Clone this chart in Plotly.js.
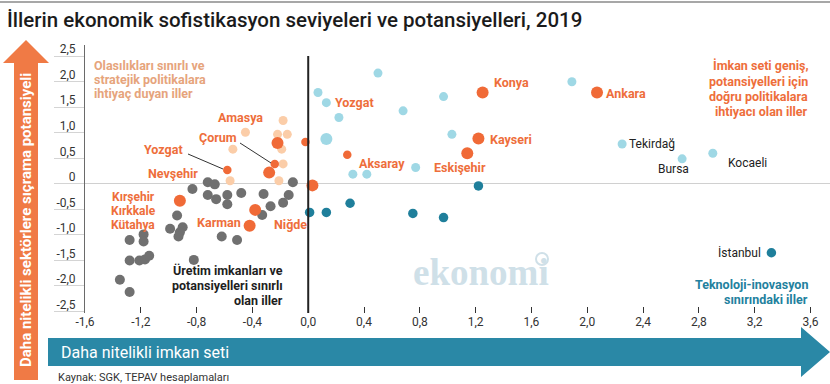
<!DOCTYPE html>
<html><head><meta charset="utf-8">
<script src="https://cdn.plot.ly/plotly-3.0.1.min.js"></script>
<style>html,body{margin:0;padding:0;background:#fff;}#chart{width:830px;height:384px;}</style>
</head><body><div id="chart"></div>
<script>
// ---- data ----
const xTickVals = [-1.6,-1.2,-0.8,-0.4,0,0.4,0.8,1.2,1.6,2.0,2.4,2.8,3.2,3.6];
const xTickText = ['-1,6','-1,2','-0,8','-0,4','0,0','0,4','0,8','1,2','1,6','2,0','2,4','2,8','3,2','3,6'];
const yTickVals = [2.5,2,1.5,1,0.5,0,-0.5,-1,-1.5,-2,-2.5];
const yTickText = ['2,5','2,0','1,5','1,0','0,5','0','-0,5','-1,0','-1,5','-2,0','-2,5'];

const lightBlueX = [0.50,0.07,0.13,0.97,0.68,0.22,1.03,0.77,0.32,0.42,1.89,2.25,2.68,2.90];
const lightBlueY = [2.17,1.79,1.59,1.71,1.43,1.30,0.97,0.32,0.19,0.19,2.00,0.78,0.49,0.60];
const lightBlueBigX = [0.13];
const lightBlueBigY = [0.88];

const orangeBigX = [1.25,2.07,1.22,1.14,0.03,-0.22,-0.28,-0.38,-0.42,-0.92];
const orangeBigY = [1.79,1.79,0.89,0.60,-0.03,0.80,0.22,-0.51,-0.82,-0.33];
const orangeSmallX = [0.28,-0.02,-0.58,-0.24];
const orangeSmallY = [0.57,0.82,0.27,0.39];

const peachX = [-0.18,-0.45,-0.22,-0.15,-0.54,-0.19,-0.18,-0.56,-0.21];
const peachY = [1.24,1.01,0.97,0.97,0.68,0.68,0.39,0.06,0.06];

const grayX = [-0.72,-0.67,-0.11,-0.83,-0.72,-0.66,-0.58,-0.48,-0.32,-0.14,-0.58,-0.18,-0.27,-0.33,-0.94,-0.99,-0.90,-0.92,-0.93,-0.62,-0.51,-1.28,-1.18,-1.18,-1.28,-1.21,-1.17,-1.14,-0.82,-1.35,-1.28];
const grayY = [0.03,-0.01,0.03,-0.10,-0.22,-0.30,-0.22,-0.18,-0.20,-0.22,-0.40,-0.37,-0.44,-0.61,-0.62,-0.88,-0.85,-0.95,-1.03,-1.03,-1.10,-1.10,-0.99,-1.13,-1.50,-1.50,-1.48,-1.41,-1.49,-1.88,-2.12];

const tealX = [1.22,0.01,0.13,0.30,0.75,0.97,3.32];
const tealY = [-0.04,-0.56,-0.56,-0.38,-0.58,-0.66,-1.35];

// ---- layout helpers (pixel -> paper) ----
const L=85, T=45, W=745, H=268;
const px = v => (v - L) / W;
const py = v => (T + H - v) / H;

const FONT = 'Roboto, "Open Sans", sans-serif';
const ORANGE = '#EE6E3B';
const PEACH_TXT = '#E6A47C';
const TEAL = '#23819E';

function sc(x, y, color, size){
  return {type:'scatter', mode:'markers', x:x, y:y, hoverinfo:'skip',
    marker:{color:color, size:size, line:{width:0}}, showlegend:false, cliponaxis:false};
}
const data = [
  sc(grayX, grayY, '#707070', 10),
  sc(peachX, peachY, '#FBCDA8', 9),
  sc(lightBlueX, lightBlueY, '#9FD8E5', 9),
  sc(lightBlueBigX, lightBlueBigY, '#9FD8E5', 12),
  sc(tealX, tealY, '#1F7F9B', 9.5),
  sc(orangeSmallX, orangeSmallY, '#F06A37', 8.5),
  sc(orangeBigX, orangeBigY, '#F06A37', 12)
];

function ann(text, x, y, opts){
  const o = Object.assign({size:12.5, color:ORANGE, weight:700, anchor:'left', angle:0}, opts||{});
  return {text:text, xref:'paper', yref:'paper', x:px(x), y:py(y), xanchor:o.anchor, yanchor:'middle',
    showarrow:false, textangle:o.angle, borderpad:0, borderwidth:0,
    font:{family:o.family||FONT, size:o.size, color:o.color, weight:o.weight}};
}

const annotations = [
  ann('İllerin ekonomik sofistikasyon seviyeleri ve potansiyelleri, 2019', 7, 20, {size:20.5, color:'#1b1b1b', weight:500}),
  ann('Daha nitelikli sektörlere sıçrama potansiyeli', 26, 220, {size:15, color:'#ffffff', angle:-90, anchor:'center'}),
  ann('Daha nitelikli imkan seti', 61, 352, {size:16, color:'#ffffff', weight:400}),
  ann('Kaynak: SGK, TEPAV hesaplamaları', 58, 377, {size:11, color:'#333', weight:400}),
  // quadrant texts
  ann('Olasılıkları sınırlı ve', 94, 65, {color:PEACH_TXT}),
  ann('stratejik politikalara', 94, 79, {color:PEACH_TXT}),
  ann('ihtiyaç duyan iller', 94, 93, {color:PEACH_TXT}),
  ann('İmkan seti geniş,', 808, 66, {anchor:'right'}),
  ann('potansiyelleri için', 808, 81.5, {anchor:'right'}),
  ann('doğru politikalara', 808, 96.5, {anchor:'right'}),
  ann('ihtiyacı olan iller', 808, 111, {anchor:'right'}),
  ann('Üretim imkanları ve', 283, 270, {anchor:'right', color:'#1e1e1e'}),
  ann('potansiyelleri sınırlı', 283, 285.5, {anchor:'right', color:'#1e1e1e'}),
  ann('olan iller', 283, 300, {anchor:'right', color:'#1e1e1e'}),
  ann('Teknoloji-inovasyon', 808, 284, {anchor:'right', color:TEAL}),
  ann('sınırındaki iller', 808, 299, {anchor:'right', color:TEAL}),
  // city labels
  ann('Konya', 494, 82), ann('Ankara', 606, 93), ann('Kayseri', 490, 139),
  ann('Eskişehir', 434, 167), ann('Aksaray', 359, 163), ann('Yozgat', 335, 102),
  ann('Amasya', 218, 117), ann('Çorum', 199, 137), ann('Yozgat', 144, 149),
  ann('Nevşehir', 148, 173),
  ann('Kırşehir', 133, 196.5, {anchor:'center', size:12}), ann('Kırkkale', 133, 210.5, {anchor:'center', size:12}),
  ann('Kütahya', 133, 224.5, {anchor:'center', size:12}),
  ann('Karman', 197, 222), ann('Niğde', 274, 225),
  ann('Tekirdağ', 629, 144, {color:'#222', weight:400, size:12}),
  ann('Bursa', 658, 169, {color:'#222', weight:400, size:12}),
  ann('Kocaeli', 728, 163, {color:'#222', weight:400, size:12}),
  ann('İstanbul', 718, 252, {color:'#222', weight:400, size:12}),
  // watermark
  ann('ekonomi', 481, 272, {anchor:'center', size:37, color:'#cfe0e8', family:'"Liberation Serif", "DejaVu Serif", serif'})
];

function pathP(points){
  return 'M ' + points.map(p => px(p[0]) + ',' + py(p[1])).join(' L ') + ' Z';
}
const shapes = [
  {type:'line', xref:'paper', yref:'paper', x0:px(0), x1:px(830), y0:py(2), y1:py(2), line:{color:'#8a8a8a', width:1.5}},
  {type:'line', xref:'x', yref:'paper', x0:0, x1:0, y0:0, y1:py(56), line:{color:'#222', width:2}},
  {type:'path', xref:'paper', yref:'paper', path:pathP([[14,380],[14,63],[3,63],[26,40],[49,63],[38,63],[38,380]]), fillcolor:'#F07A45', line:{width:0}},
  {type:'path', xref:'paper', yref:'paper', path:pathP([[48,338],[801,338],[801,327],[830,352],[801,377],[801,366],[48,366]]), fillcolor:'#2A88A6', line:{width:0}},
  {type:'line', xref:'paper', yref:'paper', x0:px(240), y0:py(143), x1:px(271), y1:py(163), line:{color:'#333', width:1}},
  {type:'line', xref:'paper', yref:'paper', x0:px(188), y0:py(154), x1:px(223), y1:py(169), line:{color:'#333', width:1}},
  {type:'circle', xref:'paper', yref:'paper', x0:px(536), x1:px(548), y0:py(253), y1:py(265), line:{color:'#cfe0e8', width:2}}
];

const layout = {
  width:830, height:384, autosize:false,
  margin:{l:L, r:830-L-W, t:T, b:384-T-H, pad:0},
  paper_bgcolor:'#fff', plot_bgcolor:'#fff',
  font:{family:FONT, color:'#333'},
  showlegend:false,
  xaxis:{range:[-1.6,3.74], tickvals:xTickVals, ticktext:xTickText, ticks:'inside', ticklen:6,
    tickcolor:'#333', tickwidth:1, showgrid:false, zeroline:false, showline:false,
    tickfont:{size:12, color:'#333', family:FONT}, fixedrange:true},
  yaxis:{range:[-2.53,2.72], tickvals:yTickVals, ticktext:yTickText, ticks:'outside', ticklen:30,
    tickcolor:'#d4d4d4', tickwidth:1, showgrid:false, showline:true, linecolor:'#6a6a6a', linewidth:1,
    zeroline:true, zerolinecolor:'#d0d0d0', zerolinewidth:1,
    ticklabelstandoff:-24, ticklabelshift:-7,
    tickfont:{size:12, color:'#333', family:FONT}, fixedrange:true},
  annotations:annotations,
  shapes:shapes
};
Plotly.newPlot('chart', data, layout, {displayModeBar:false, staticPlot:true});
</script>
</body></html>
